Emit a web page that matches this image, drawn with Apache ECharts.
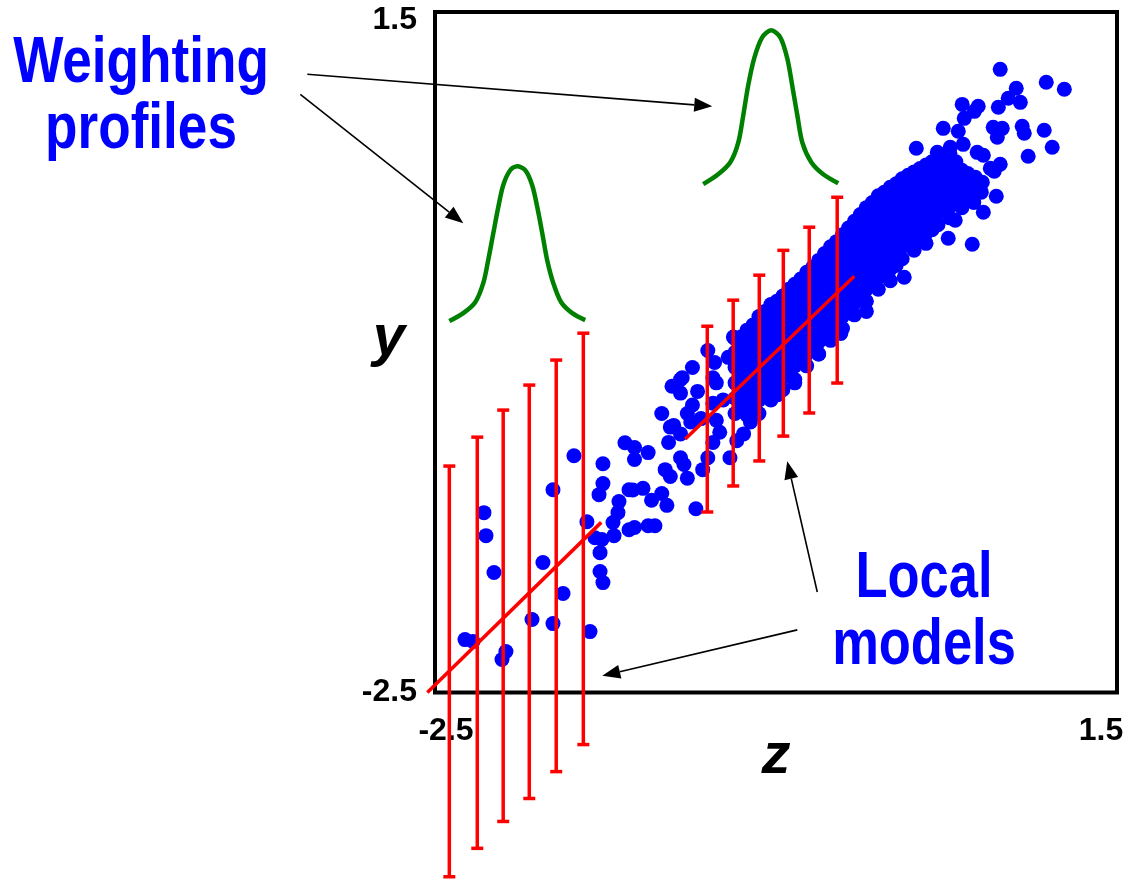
<!DOCTYPE html>
<html>
<head>
<meta charset="utf-8">
<title>Weighting profiles and local models</title>
<script src="https://cdn.jsdelivr.net/npm/echarts@6/dist/echarts.min.js"></script>
<style>
  html, body { margin: 0; padding: 0; background: #fff; }
  #main { width: 1127px; height: 879px; }
</style>
</head>
<body>
<div id="main"></div>
<script>
var FONT = '"Liberation Sans", Arial, sans-serif';

// tick labels shown on the axes
var xTicks = [-2.5, 1.5];
var yTicks = [-2.5, 1.5];

// dense core of the cloud (z, y)
var densePoints = [
  [-0.74,-0.42],[-0.74,-0.50],[-0.74,-0.59],[-0.74,-0.68],[-0.74,-0.77],[-0.74,-0.86],
  [-0.67,-0.37],[-0.67,-0.45],[-0.67,-0.54],[-0.67,-0.62],[-0.67,-0.70],[-0.67,-0.79],[-0.67,-0.87],
  [-0.60,-0.29],[-0.60,-0.37],[-0.60,-0.46],[-0.60,-0.54],[-0.60,-0.62],[-0.60,-0.70],[-0.60,-0.78],[-0.60,-0.86],
  [-0.53,-0.22],[-0.53,-0.30],[-0.53,-0.38],[-0.53,-0.46],[-0.53,-0.54],[-0.53,-0.62],[-0.53,-0.70],[-0.53,-0.78],
  [-0.46,-0.17],[-0.46,-0.25],[-0.46,-0.33],[-0.46,-0.41],[-0.46,-0.49],[-0.46,-0.57],[-0.46,-0.65],[-0.46,-0.72],
  [-0.39,-0.10],[-0.39,-0.18],[-0.39,-0.26],[-0.39,-0.34],[-0.39,-0.42],[-0.39,-0.50],[-0.39,-0.58],[-0.39,-0.66],
  [-0.32,-0.03],[-0.32,-0.11],[-0.32,-0.19],[-0.32,-0.27],[-0.32,-0.35],[-0.32,-0.43],[-0.32,-0.51],[-0.32,-0.58],
  [-0.25,0.04],[-0.25,-0.04],[-0.25,-0.12],[-0.25,-0.20],[-0.25,-0.28],[-0.25,-0.36],[-0.25,-0.44],[-0.25,-0.51],
  [-0.18,0.12],[-0.18,0.04],[-0.18,-0.04],[-0.18,-0.12],[-0.18,-0.20],[-0.18,-0.28],[-0.18,-0.36],[-0.18,-0.43],
  [-0.11,0.19],[-0.11,0.11],[-0.11,0.03],[-0.11,-0.05],[-0.11,-0.13],[-0.11,-0.21],[-0.11,-0.29],[-0.11,-0.36],
  [-0.04,0.27],[-0.04,0.19],[-0.04,0.11],[-0.04,0.03],[-0.04,-0.05],[-0.04,-0.13],[-0.04,-0.21],[-0.04,-0.28],
  [0.03,0.35],[0.03,0.27],[0.03,0.19],[0.03,0.11],[0.03,0.03],[0.03,-0.05],[0.03,-0.13],[0.03,-0.20],[0.03,-0.26],
  [0.10,0.42],[0.10,0.34],[0.10,0.26],[0.10,0.18],[0.10,0.10],[0.10,0.02],[0.10,-0.06],[0.10,-0.13],
  [0.17,0.47],[0.17,0.39],[0.17,0.31],[0.17,0.23],[0.17,0.15],[0.17,0.07],[0.17,-0.01],[0.17,-0.08],
  [0.24,0.52],[0.24,0.44],[0.24,0.36],[0.24,0.28],[0.24,0.20],[0.24,0.12],[0.24,0.05],
  [0.31,0.56],[0.31,0.48],[0.31,0.40],[0.31,0.32],[0.31,0.24],[0.31,0.16],[0.31,0.10],
  [0.38,0.60],[0.38,0.52],[0.38,0.44],[0.38,0.36],[0.38,0.28],[0.38,0.20],[0.38,0.14],
  [0.45,0.64],[0.45,0.56],[0.45,0.48],[0.45,0.40],[0.45,0.32],[0.45,0.25],
  [0.52,0.67],[0.52,0.59],[0.52,0.51],[0.52,0.43],[0.52,0.36],[0.52,0.29],
  [0.59,0.57],[0.59,0.49],[0.59,0.42],[0.59,0.35],
  [0.66,0.52],[0.66,0.45],[0.66,0.38]
];

// points sitting between the core columns
var fillPoints = [
  [-0.705,-0.41],[-0.705,-0.49],[-0.705,-0.57],[-0.705,-0.65],[-0.705,-0.73],[-0.705,-0.82],
  [-0.635,-0.34],[-0.635,-0.42],[-0.635,-0.50],[-0.635,-0.58],[-0.635,-0.66],[-0.635,-0.74],[-0.635,-0.82],
  [-0.565,-0.26],[-0.565,-0.34],[-0.565,-0.42],[-0.565,-0.50],[-0.565,-0.58],[-0.565,-0.66],[-0.565,-0.74],
  [-0.495,-0.20],[-0.495,-0.28],[-0.495,-0.36],[-0.495,-0.44],[-0.495,-0.52],[-0.495,-0.60],[-0.495,-0.68],
  [-0.425,-0.13],[-0.425,-0.21],[-0.425,-0.29],[-0.425,-0.37],[-0.425,-0.45],[-0.425,-0.53],[-0.425,-0.61],
  [-0.355,-0.07],[-0.355,-0.15],[-0.355,-0.23],[-0.355,-0.31],[-0.355,-0.39],[-0.355,-0.47],[-0.355,-0.55],
  [-0.285,0.00],[-0.285,-0.08],[-0.285,-0.16],[-0.285,-0.24],[-0.285,-0.32],[-0.285,-0.40],[-0.285,-0.48],
  [-0.215,0.08],[-0.215,0.00],[-0.215,-0.08],[-0.215,-0.16],[-0.215,-0.24],[-0.215,-0.32],[-0.215,-0.40],
  [-0.145,0.15],[-0.145,0.07],[-0.145,-0.01],[-0.145,-0.09],[-0.145,-0.17],[-0.145,-0.25],[-0.145,-0.33],
  [-0.075,0.23],[-0.075,0.15],[-0.075,0.07],[-0.075,-0.01],[-0.075,-0.09],[-0.075,-0.17],[-0.075,-0.25],
  [-0.005,0.31],[-0.005,0.23],[-0.005,0.15],[-0.005,0.07],[-0.005,-0.01],[-0.005,-0.09],[-0.005,-0.17],
  [0.065,0.38],[0.065,0.30],[0.065,0.22],[0.065,0.14],[0.065,0.06],[0.065,-0.02],[0.065,-0.10],
  [0.135,0.44],[0.135,0.36],[0.135,0.28],[0.135,0.20],[0.135,0.12],[0.135,0.04],[0.135,-0.04],
  [0.205,0.49],[0.205,0.41],[0.205,0.33],[0.205,0.25],[0.205,0.17],[0.205,0.09],[0.205,0.01],
  [0.275,0.54],[0.275,0.46],[0.275,0.38],[0.275,0.30],[0.275,0.22],[0.275,0.14],
  [0.345,0.58],[0.345,0.50],[0.345,0.42],[0.345,0.34],[0.345,0.26],[0.345,0.18],
  [0.415,0.62],[0.415,0.54],[0.415,0.46],[0.415,0.38],[0.415,0.30],[0.415,0.22],
  [0.485,0.65],[0.485,0.57],[0.485,0.49],[0.485,0.41],[0.485,0.33],
  [0.555,0.62],[0.555,0.54],[0.555,0.46],[0.555,0.38],
  [0.625,0.55],[0.625,0.47],[0.625,0.40]
];

// scattered points below and left of the core
var sparsePoints = [
  [-1.685,-1.108],[-1.808,-1.308],[-2.213,-1.443],[-2.201,-1.578],[-2.154,-1.795],[-1.867,-1.736],
  [-1.749,-1.918],[-1.931,-2.071],[-1.808,-2.095],[-1.591,-2.142],[-2.324,-2.189],[-2.277,-2.200],
  [-2.084,-2.259],[-2.107,-2.306],[-1.515,-1.155],[-1.515,-1.272],[-1.538,-1.337],[-1.609,-1.496],
  [-1.562,-1.590],[-1.521,-1.601],[-1.532,-1.678],[-1.532,-1.789],[-1.515,-1.854],[-1.421,-1.378],
  [-1.427,-1.443],[-1.456,-1.501],[-1.450,-1.578],[-1.386,-1.032],[-1.362,-1.308],[-1.362,-1.543],
  [-1.33,-1.06],[-1.25,-1.09],[-1.33,-1.13],[-1.34,-1.31],[-1.28,-1.30],[-1.23,-1.37],[-1.17,-1.33],
  [-1.14,-1.40],[-1.33,-1.53],[-1.25,-1.52],[-1.21,-1.52],[-1.15,-1.19],[-1.12,-1.23],[-1.17,-0.86],
  [-1.11,-0.70],[-1.05,-0.65],[-1.06,-0.74],[-0.99,-0.59],[-0.96,-0.73],[-0.99,-0.81],[-1.02,-0.86],
  [-1.00,-0.91],[-1.12,-0.94],[-1.06,-0.98],[-1.13,-1.03],[-1.06,-1.12],[-1.04,-1.16],[-1.02,-1.24],
  [-0.93,-1.19],[-0.97,-1.42],[-0.90,-0.49],[-0.86,-0.56],[-0.87,-0.65],[-0.85,-0.68],[-0.87,-0.80],
  [-0.85,-0.90],[-0.83,-0.97],[-0.87,-1.03],[-0.90,-1.12],[-0.77,-1.12],[-0.69,-0.98],[-0.73,-1.02],
  [-0.65,-0.91],[-0.75,-0.41],[-0.78,-0.53],[-0.81,-0.78],[-0.49,-0.75],[-0.39,-0.68],[-0.25,-0.51],
  [-0.12,-0.39],[-1.10,-0.93],[-0.94,-0.89],[-1.06,-0.66]
];

// scattered points at the upper right
var upperPoints = [
  [0.815,1.163],[0.909,1.052],[1.085,1.087],[1.191,1.046],[0.592,0.957],[0.686,0.946],[0.663,0.916],
  [0.604,0.875],[0.804,0.940],[0.862,0.993],[0.933,0.969],[0.481,0.816],[0.569,0.799],[0.774,0.822],
  [0.827,0.816],[0.798,0.764],[0.944,0.828],[0.956,0.787],[1.073,0.805],[0.323,0.699],[0.446,0.675],
  [0.522,0.705],[0.598,0.722],[0.680,0.675],[0.716,0.658],[0.979,0.652],[1.120,0.705],[0.757,0.581],
  [0.815,0.605],[0.780,0.564],[0.669,0.529],[0.710,0.499],[0.704,0.441],[0.792,0.417],[0.716,0.323],
  [0.598,0.399],[0.551,0.276],[0.510,0.170],[0.651,0.135],[0.252,-0.059],[0.188,0.470],[0.035,0.347]
];

// local linear models: [fromZ, fromY, toZ, toY]
var modelLines = [
  [-2.545, -2.50, -1.525, -1.50],
  [-1.032, -1.010, -0.041, -0.053]
];

// error bars of the local models
var barsLowX = [-2.416,-2.252,-2.100,-1.947,-1.789,-1.630];
var barsLowMin = [-3.583,-3.416,-3.258,-3.123,-2.965,-2.806];
var barsLowMax = [-1.169,-0.999,-0.840,-0.693,-0.546,-0.388];

var barsHighX = [-0.903,-0.751,-0.598,-0.457,-0.305,-0.141];
var barsHighMin = [-1.439,-1.286,-1.139,-0.993,-0.857,-0.681];
var barsHighMax = [-0.347,-0.194,-0.047,0.099,0.235,0.411];

// weighting profiles
var profileLow = [
  [-2.416,-0.317],[-2.334,-0.270],[-2.264,-0.206],[-2.217,-0.094],[-2.188,0.041],[-2.158,0.200],
  [-2.129,0.352],[-2.100,0.482],[-2.059,0.570],[-2.018,0.593],[-1.971,0.570],[-1.930,0.482],
  [-1.900,0.352],[-1.871,0.200],[-1.842,0.041],[-1.806,-0.094],[-1.760,-0.206],[-1.695,-0.270],
  [-1.619,-0.311]
];
var profileHigh = [
  [-0.927,0.488],[-0.839,0.546],[-0.768,0.617],[-0.721,0.734],[-0.692,0.893],[-0.663,1.069],
  [-0.628,1.228],[-0.581,1.351],[-0.528,1.392],[-0.475,1.351],[-0.434,1.228],[-0.405,1.069],
  [-0.375,0.893],[-0.346,0.734],[-0.293,0.617],[-0.223,0.546],[-0.135,0.493]
];

// annotation arrows: [fromZ, fromY, toZ, toY]
var arrows = [
  [-3.249, 1.134, -0.874, 0.946],
  [-3.290, 1.016, -2.334, 0.258],
  [-0.258, -1.909, -0.434, -1.140],
  [-0.375, -2.132, -1.519, -2.402]
];

function zip(xs, lo, hi) {
  return xs.map(function (x, i) { return [x, lo[i], hi[i]]; });
}

function renderBar(params, api) {
  var x = api.value(0);
  var a = api.coord([x, api.value(1)]);
  var b = api.coord([x, api.value(2)]);
  var w = 6;
  var st = { stroke: '#ff0000', lineWidth: 3.5 };
  return {
    type: 'group',
    children: [
      { type: 'line', shape: { x1: a[0], y1: a[1], x2: b[0], y2: b[1] }, style: st },
      { type: 'line', shape: { x1: a[0] - w, y1: a[1], x2: a[0] + w, y2: a[1] }, style: st },
      { type: 'line', shape: { x1: b[0] - w, y1: b[1], x2: b[0] + w, y2: b[1] }, style: st }
    ]
  };
}

function renderModel(params, api) {
  var p = api.coord([api.value(0), api.value(1)]);
  var q = api.coord([api.value(2), api.value(3)]);
  return {
    type: 'line',
    shape: { x1: p[0], y1: p[1], x2: q[0], y2: q[1] },
    style: { stroke: '#ff0000', lineWidth: 3.5 }
  };
}

function renderArrow(params, api) {
  var p = api.coord([api.value(0), api.value(1)]);
  var q = api.coord([api.value(2), api.value(3)]);
  var dx = q[0] - p[0], dy = q[1] - p[1];
  var len = Math.sqrt(dx * dx + dy * dy);
  var ux = dx / len, uy = dy / len;
  var hl = 18, hw = 7;
  var bx = q[0] - ux * hl, by = q[1] - uy * hl;
  return {
    type: 'group',
    children: [
      { type: 'line', shape: { x1: p[0], y1: p[1], x2: bx, y2: by },
        style: { stroke: '#000', lineWidth: 1.6 } },
      { type: 'polygon',
        shape: { points: [[q[0], q[1]], [bx - uy * hw, by + ux * hw], [bx + uy * hw, by - ux * hw]] },
        style: { fill: '#000' } }
    ]
  };
}

var myChart = echarts.init(document.getElementById('main'));

var option = {
  animation: false,
  backgroundColor: '#fff',
  grid: {
    left: 435, right: 10, top: 12, bottom: 186.5,
    show: true, borderColor: '#000', borderWidth: 4
  },
  xAxis: {
    type: 'value', min: -2.5, max: 1.5, interval: 0.5,
    name: 'z', nameLocation: 'middle', nameGap: 35, nameMoveOverlap: false,
    nameTextStyle: { fontFamily: FONT, fontSize: 58, fontWeight: 'bold', fontStyle: 'italic', color: '#000' },
    axisLine: { show: false }, axisTick: { show: false }, splitLine: { show: false },
    axisLabel: {
      margin: 23,
      formatter: function (v) {
        if (Math.abs(v - xTicks[0]) < 1e-9) return '{a|' + v + '}';
        if (Math.abs(v - xTicks[1]) < 1e-9) return '{b|' + v + '}';
        return '';
      },
      rich: {
        a: { fontFamily: FONT, fontSize: 32, fontWeight: 'bold', color: '#000', padding: [0, 0, 0, 22] },
        b: { fontFamily: FONT, fontSize: 32, fontWeight: 'bold', color: '#000', padding: [0, 32, 0, 0] }
      }
    }
  },
  yAxis: {
    type: 'value', min: -2.5, max: 1.5, interval: 0.5,
    name: 'y', nameLocation: 'middle', nameRotate: 0, nameGap: 30, nameMoveOverlap: false,
    nameTextStyle: { fontFamily: FONT, fontSize: 58, fontWeight: 'bold', fontStyle: 'italic', color: '#000',
      verticalAlign: 'bottom', lineHeight: 26 },
    axisLine: { show: false }, axisTick: { show: false }, splitLine: { show: false },
    axisLabel: {
      margin: 18,
      formatter: function (v) {
        if (Math.abs(v - yTicks[0]) < 1e-9) return '{a|' + v + '}';
        if (Math.abs(v - yTicks[1]) < 1e-9) return '{b|' + v + '}';
        return '';
      },
      rich: {
        a: { fontFamily: FONT, fontSize: 32, fontWeight: 'bold', color: '#000' },
        b: { fontFamily: FONT, fontSize: 32, fontWeight: 'bold', color: '#000', padding: [16, 0, 0, 0] }
      }
    }
  },
  graphic: [
    {
      type: 'text', x: 141, y: 97, scaleX: 0.83, z: 100,
      style: {
        text: 'Weighting\nprofiles', fill: '#0000ff', align: 'center', verticalAlign: 'middle',
        fontFamily: FONT, fontSize: 64, fontWeight: 'bold', lineHeight: 66
      }
    },
    {
      type: 'text', x: 924, y: 613, scaleX: 0.82, z: 100,
      style: {
        text: 'Local\nmodels', fill: '#0000ff', align: 'center', verticalAlign: 'middle',
        fontFamily: FONT, fontSize: 64, fontWeight: 'bold', lineHeight: 67
      }
    }
  ],
  series: [
    {
      type: 'scatter', symbolSize: 15, progressive: 0, large: false,
      data: sparsePoints.concat(densePoints, fillPoints, upperPoints),
      itemStyle: { color: '#0000ff', opacity: 1 }
    },
    { type: 'custom', renderItem: renderBar, clip: false, z: 3, data: zip(barsLowX, barsLowMin, barsLowMax) },
    { type: 'custom', renderItem: renderBar, clip: false, z: 3, data: zip(barsHighX, barsHighMin, barsHighMax) },
    {
      type: 'custom', renderItem: renderModel, clip: false, z: 4, data: modelLines,
      encode: { x: [0, 2], y: [1, 3] }
    },
    {
      type: 'line', data: profileLow, symbol: 'none', smooth: 0.3, clip: false, z: 4,
      lineStyle: { color: '#008000', width: 4.5 }
    },
    {
      type: 'line', data: profileHigh, symbol: 'none', smooth: 0.3, clip: false, z: 4,
      lineStyle: { color: '#008000', width: 4.5 }
    },
    {
      type: 'custom', renderItem: renderArrow, clip: false, z: 5, data: arrows,
      encode: { x: [0, 2], y: [1, 3] }
    }
  ]
};

myChart.setOption(option);
</script>
</body>
</html>
